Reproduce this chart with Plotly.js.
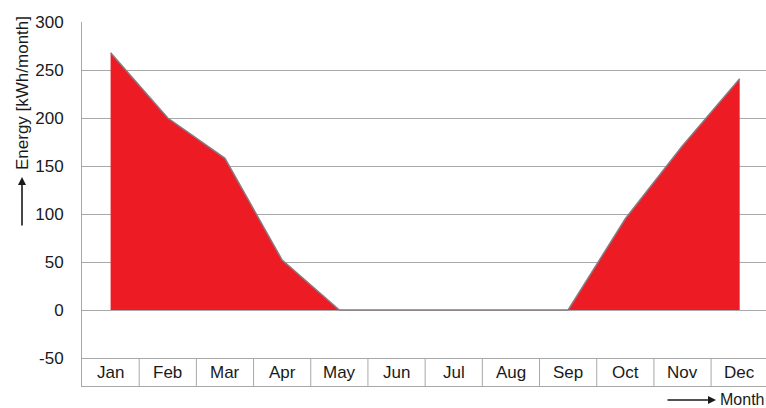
<!DOCTYPE html>
<html>
<head>
<meta charset="utf-8">
<script src="https://cdn.plot.ly/plotly-3.0.1.min.js"></script>
<style>
  html, body { margin: 0; padding: 0; background: #ffffff; }
  #chart { width: 766px; height: 408px; }
</style>
</head>
<body>
<div id="chart"></div>
<script>
// ---- data ----
const months = ["Jan", "Feb", "Mar", "Apr", "May", "Jun", "Jul", "Aug", "Sep", "Oct", "Nov", "Dec"];
const energy = [268, 200, 158, 52, 0, 0, 0, 0, 0, 95, 171, 241];
const yTickVals = [-50, 0, 50, 100, 150, 200, 250, 300];
const yTickText = ["-50", "0", "50", "100", "150", "200", "250", "300"];
const yTitle = "Energy [kWh/month]";
const xTitle = "Month";

// ---- layout helpers ----
const W = 766, H = 408;
const mL = 82, mR = 0, mT = 22, mB = 22;
const plotW = W - mL - mR, plotH = H - mT - mB;
const yMin = -79.17, yMax = 300;
const tableTop = -50;
const gridColor = "#a8a8a8";
const textColor = "#1a1a1a";
const font = "Liberation Sans, Arial, sans-serif";

const px2paperX = (px) => (px - mL) / plotW;
const px2paperY = (py) => (H - mB - py) / plotH;

const trace = {
  type: "scatter",
  mode: "lines",
  x: months,
  y: energy,
  fill: "tozeroy",
  fillcolor: "#ed1c24",
  line: { color: "#8a7a80", width: 1.5 },
  hoverinfo: "skip",
  showlegend: false
};

// category-boundary separators in the month table
const shapes = [];
for (let i = 0; i < months.length - 1; i++) {
  shapes.push({
    type: "line", xref: "x", yref: "y",
    x0: i + 0.5, x1: i + 0.5, y0: yMin, y1: tableTop,
    line: { color: gridColor, width: 1 }
  });
}

// month labels inside the table
const annotations = months.map((m, i) => ({
  x: m, y: (yMin + tableTop) / 2, xref: "x", yref: "y",
  text: m, showarrow: false,
  font: { family: font, size: 17, color: textColor },
  xanchor: "center", yanchor: "middle"
}));

// y-axis title with arrow
annotations.push({
  xref: "paper", yref: "paper",
  x: px2paperX(23), y: px2paperY(93),
  text: yTitle, textangle: -90, showarrow: false,
  font: { family: font, size: 17, color: textColor },
  xanchor: "center", yanchor: "middle"
});
annotations.push({
  xref: "paper", yref: "paper",
  x: px2paperX(22), y: px2paperY(177),
  text: "", showarrow: true, ax: 0, ay: 50,
  arrowhead: 2, arrowsize: 1, arrowwidth: 1.6, arrowcolor: textColor, standoff: 0
});

// x-axis title with arrow
annotations.push({
  xref: "paper", yref: "paper",
  x: 1, y: px2paperY(399),
  text: xTitle, showarrow: false,
  font: { family: font, size: 16, color: textColor },
  xanchor: "right", yanchor: "middle", borderpad: 0, xshift: -1
});
annotations.push({
  xref: "paper", yref: "paper",
  x: px2paperX(716), y: px2paperY(400),
  text: "", showarrow: true, ax: -50, ay: 0,
  arrowhead: 2, arrowsize: 1, arrowwidth: 1.6, arrowcolor: textColor, standoff: 0
});

const layout = {
  width: W, height: H,
  margin: { l: mL, r: mR, t: mT, b: mB, pad: 0 },
  paper_bgcolor: "#ffffff",
  plot_bgcolor: "#ffffff",
  showlegend: false,
  xaxis: {
    type: "category",
    categoryorder: "array",
    categoryarray: months,
    range: [-0.5, 11.46],
    showticklabels: false,
    showgrid: false,
    zeroline: false,
    ticks: "",
    showline: true,
    linecolor: gridColor,
    linewidth: 1,
    fixedrange: true
  },
  yaxis: {
    range: [yMin, yMax],
    tickmode: "array",
    tickvals: yTickVals,
    ticktext: yTickText,
    showgrid: true,
    gridcolor: gridColor,
    gridwidth: 1,
    zeroline: true,
    zerolinecolor: gridColor,
    zerolinewidth: 1,
    showline: true,
    linecolor: gridColor,
    linewidth: 1,
    ticks: "",
    ticklabelstandoff: 14,
    tickfont: { family: font, size: 17, color: textColor },
    fixedrange: true
  },
  shapes: shapes,
  annotations: annotations,
  hovermode: false
};

Plotly.newPlot("chart", [trace], layout, { displayModeBar: false, staticPlot: true });
</script>
</body>
</html>
